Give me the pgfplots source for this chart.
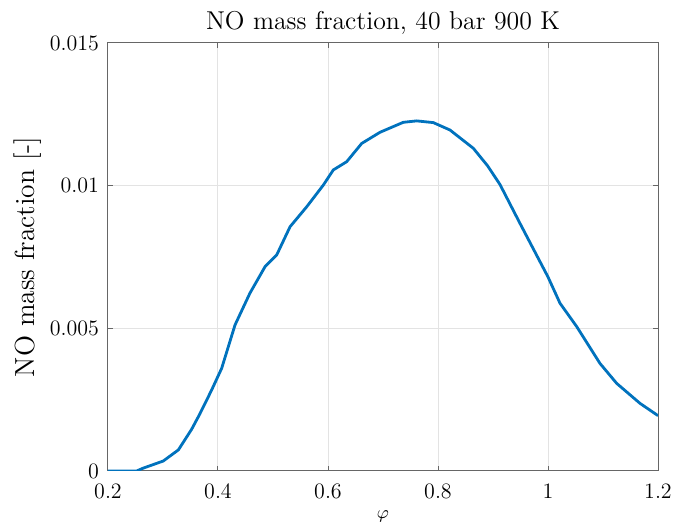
\documentclass[border=0pt]{standalone}
\usepackage{pgfplots}
\pgfplotsset{compat=1.18}
\definecolor{mblue}{rgb}{0,0.447,0.741}
\begin{document}
\begin{tikzpicture}
\begin{axis}[
    name=ax,
    scale only axis,
    width=275pt, height=214pt,
    xmin=0.2, xmax=1.2,
    ymin=0, ymax=0.015,
    scaled y ticks=false,
    xtick={0.2,0.4,0.6,0.8,1,1.2},
    xticklabels={0.2,0.4,0.6,0.8,1,1.2},
    ytick={0,0.005,0.01,0.015},
    yticklabels={0,0.005,0.01,0.015},
    grid=major,
    major grid style={gray!22, line width=0.5pt},
    axis line style={black!60, line width=0.5pt},
    major tick style={black!60, line width=0.5pt},
    major tick length=2.5pt,
    ticklabel style={font=\fontsize{11}{12}\selectfont},
    xticklabel style={anchor=base, yshift=-14pt},
    yticklabel style={xshift=-1pt},
    title={NO mass fraction, 40 bar 900 K},
    title style={font=\fontsize{12.9}{14}\selectfont, anchor=base,
        at={(axis description cs:0.5,1)}, yshift=0.5pt},
    ylabel={NO mass fraction [-]},
    ylabel style={font=\fontsize{13.8}{15}\selectfont, anchor=south,
        at={(axis description cs:-0.109,0.5)}},
    xlabel={$\varphi$},
    xlabel style={font=\fontsize{9}{10}\selectfont, anchor=base,
        at={(axis description cs:0.5,0)}, yshift=-24pt},
]
\addplot[mblue, line width=1.4pt] coordinates {
    (0.2,0) (0.252,0) (0.264,0.0001) (0.3005,0.00035) (0.328,0.00074)
    (0.352,0.00146) (0.367,0.0020) (0.3885,0.00284) (0.4067,0.0036)
    (0.431,0.00512) (0.458,0.00623) (0.4855,0.00716) (0.5067,0.00757)
    (0.531,0.00856) (0.5613,0.00926) (0.5915,0.01002) (0.6096,0.01055)
    (0.634,0.01084) (0.6613,0.01148) (0.6945,0.01187) (0.7369,0.01222)
    (0.7613,0.01227) (0.7915,0.01221) (0.8218,0.01195) (0.8642,0.01131)
    (0.89,0.0107) (0.9127,0.01004) (0.949,0.00868) (1.0,0.0068)
    (1.0218,0.00588) (1.0522,0.00506) (1.0945,0.00377) (1.1249,0.00307)
    (1.1673,0.00237) (1.2,0.00194)
};
\end{axis}
\pgfresetboundingbox
\path ([xshift=-54pt,yshift=-26pt]ax.south west) rectangle ([xshift=8pt,yshift=21.5pt]ax.north east);
\end{tikzpicture}
\end{document}
